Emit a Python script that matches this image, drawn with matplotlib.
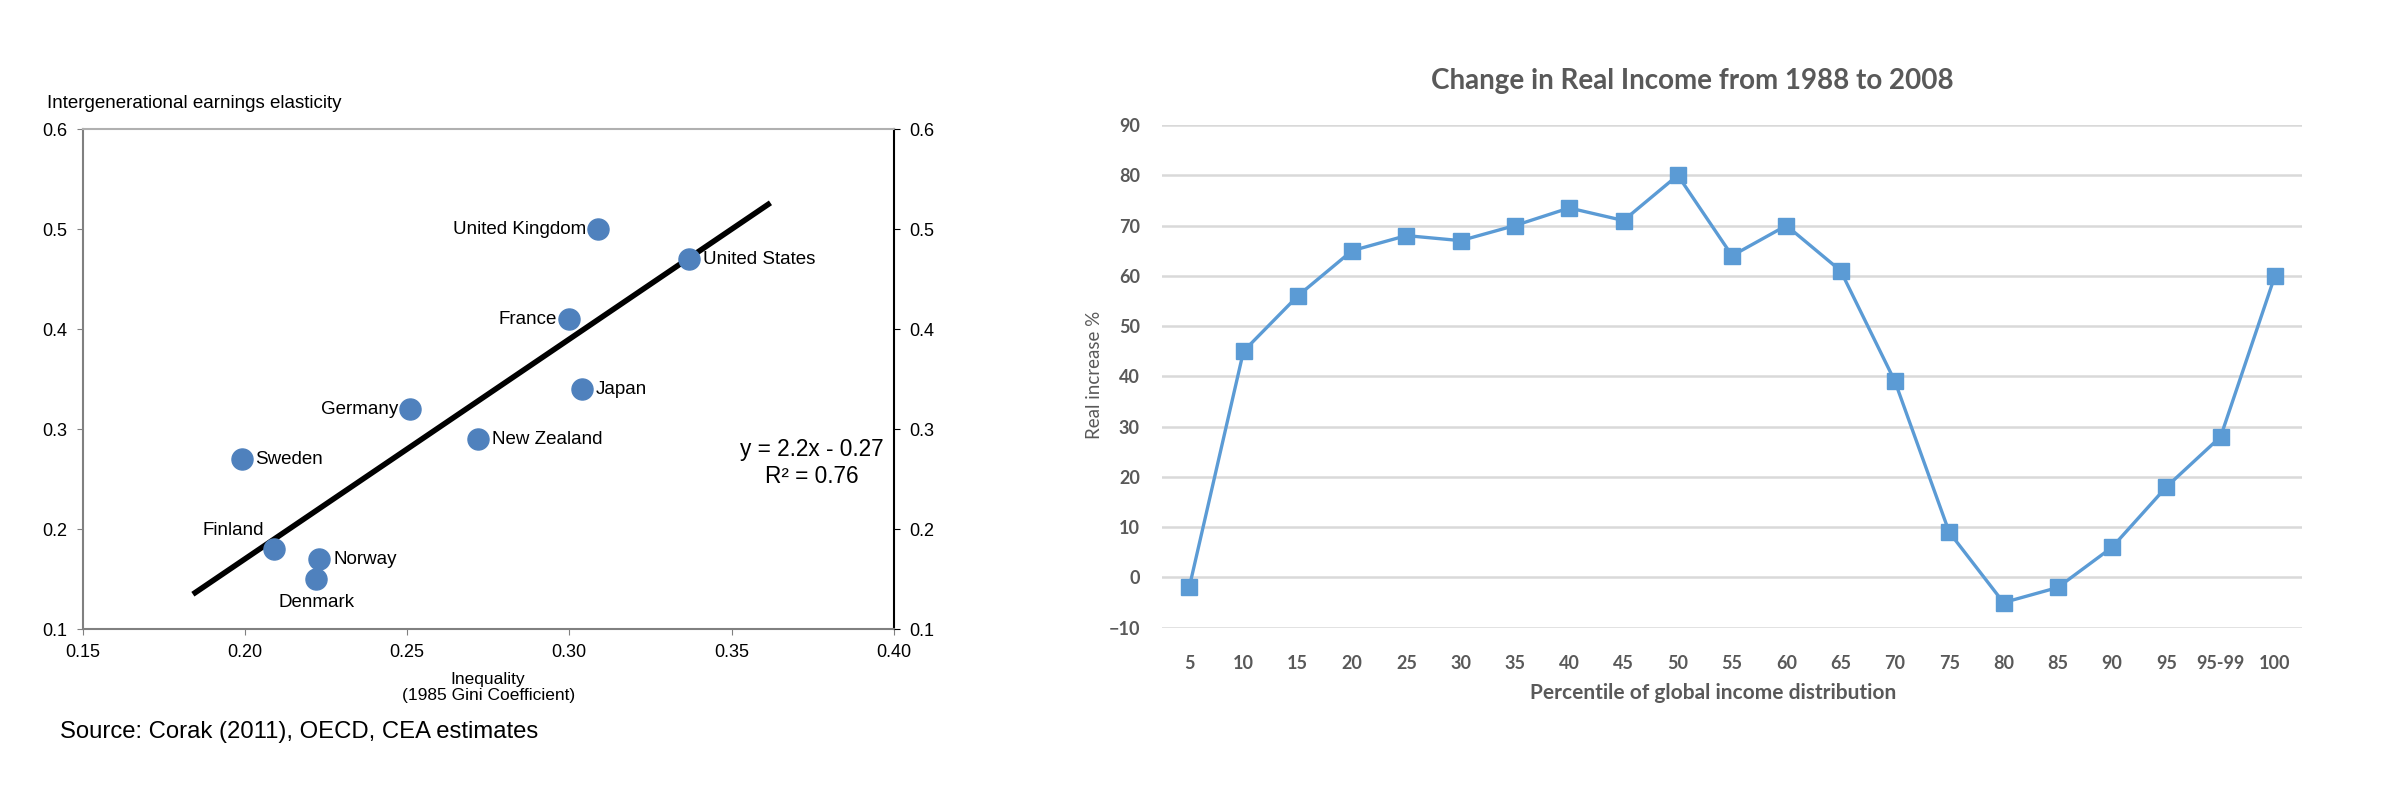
import matplotlib
matplotlib.use("Agg")
import matplotlib.pyplot as plt

# left panel: mobility vs inequality
countries = ["United Kingdom", "United States", "France", "Japan", "Germany",
             "New Zealand", "Sweden", "Finland", "Norway", "Denmark"]
gini = [0.309, 0.337, 0.300, 0.304, 0.251, 0.272, 0.199, 0.209, 0.223, 0.222]
elasticity = [0.50, 0.47, 0.41, 0.34, 0.32, 0.29, 0.27, 0.18, 0.17, 0.15]
fit_slope, fit_intercept = 2.2, -0.27
fit_x = [0.184, 0.362]

# right panel: change in real income
pct_labels = ["5", "10", "15", "20", "25", "30", "35", "40", "45", "50", "55",
              "60", "65", "70", "75", "80", "85", "90", "95", "95-99", "100"]
real_increase = [-2, 45, 56, 65, 68, 67, 70, 73.5, 71, 80, 64,
                 70, 61, 39, 9, -5, -2, 6, 18, 28, 60]

fig = plt.figure(figsize=(24, 8.06), dpi=100)

# ---------- left chart ----------
arial = "Liberation Sans"
ax = fig.add_axes([0.0344, 0.2196, 0.338, 0.620])
ax.scatter(gini, elasticity, s=230, color="#4F81BD", zorder=3)
ax.plot(fit_x, [fit_slope * x + fit_intercept for x in fit_x],
        color="black", lw=4, zorder=2, solid_capstyle="butt")

# label offsets in points (dx, dy, ha, va)
offsets = {
    "United Kingdom": (-9, 0, "right", "center"),
    "United States": (10, 0, "left", "center"),
    "France": (-9, 0, "right", "center"),
    "Japan": (10, 0, "left", "center"),
    "Germany": (-9, 0, "right", "center"),
    "New Zealand": (10, 0, "left", "center"),
    "Sweden": (10, 0, "left", "center"),
    "Finland": (-7, 13, "right", "center"),
    "Norway": (10, 0, "left", "center"),
    "Denmark": (0, -17, "center", "center"),
}
for c, x, y in zip(countries, gini, elasticity):
    dx, dy, ha, va = offsets[c]
    ax.annotate(c, (x, y), xytext=(dx, dy), textcoords="offset points",
                ha=ha, va=va, fontsize=13.5, family=arial)

ax.text(0.3747, 0.266, "y = 2.2x - 0.27\nR² = 0.76", ha="center", va="center",
        fontsize=16.3, family=arial, linespacing=1.2)

ax.set_xlim(0.15, 0.40)
ax.set_ylim(0.1, 0.6)
ax.set_xticks([0.15, 0.20, 0.25, 0.30, 0.35, 0.40])
ax.set_xticklabels(["0.15", "0.20", "0.25", "0.30", "0.35", "0.40"])
ax.set_yticks([0.1, 0.2, 0.3, 0.4, 0.5, 0.6])
ax.set_yticklabels(["0.1", "0.2", "0.3", "0.4", "0.5", "0.6"])
for lab in ax.get_xticklabels() + ax.get_yticklabels():
    lab.set_family(arial)
ax.tick_params(labelsize=13, length=4, color="#808080", pad=7)
ax.spines["top"].set_color("#b0b0b0")
ax.spines["left"].set_color("#808080")
ax.spines["bottom"].set_color("#808080")
for s in ["top", "left", "bottom"]:
    ax.spines[s].set_linewidth(1.5)
ax.spines["right"].set_color("black")
ax.spines["right"].set_linewidth(1.5)

ax2 = ax.twinx()
ax2.set_ylim(0.1, 0.6)
ax2.set_yticks([0.1, 0.2, 0.3, 0.4, 0.5, 0.6])
ax2.set_yticklabels(["0.1", "0.2", "0.3", "0.4", "0.5", "0.6"], family=arial)
ax2.tick_params(labelsize=13, length=4, color="black", pad=7)
for s in ax2.spines.values():
    s.set_visible(False)

ax.set_xlabel("Inequality\n(1985 Gini Coefficient)", fontsize=12.5, family=arial,
              labelpad=8, linespacing=1.05)
fig.text(0.0196, 0.871, "Intergenerational earnings elasticity", fontsize=13.5,
         family=arial, va="center")
fig.text(0.0248, 0.092, "Source: Corak (2011), OECD, CEA estimates", fontsize=17.2,
         family=arial, va="center")

# ---------- right chart ----------
font2 = "Lato"
gray = "#595959"
bx = fig.add_axes([0.4842, 0.2212, 0.475, 0.6237])
xs = list(range(len(pct_labels)))
bx.plot(xs, real_increase, color="#5B9BD5", lw=2.4, marker="s", markersize=12,
        zorder=3)
bx.set_xlim(-0.5, len(pct_labels) - 0.5)
bx.set_ylim(-10, 90)
bx.set_yticks(range(-10, 91, 10))
bx.grid(axis="y", color="#d9d9d9", lw=1.8)
bx.set_axisbelow(True)
for s in bx.spines.values():
    s.set_visible(False)
bx.set_xticks(xs)
bx.set_xticklabels(pct_labels)
for lab in bx.get_xticklabels() + bx.get_yticklabels():
    lab.set_family(font2)
    lab.set_fontweight("bold")
    lab.set_color(gray)
bx.tick_params(axis="x", length=0, labelsize=13, pad=20)
bx.tick_params(axis="y", length=0, labelsize=13, pad=16)

fig.text(0.705, 0.8995, "Change in Real Income from 1988 to 2008", fontsize=20,
         family=font2, fontweight="bold", color=gray, ha="center", va="center")
bx.set_xlabel("Percentile of global income distribution", fontsize=15,
              family=font2, fontweight="bold", color=gray)
bx.xaxis.set_label_coords(0.483, -0.11)
fig.text(0.456, 0.535, "Real increase %", rotation=90, fontsize=13.5,
         family=font2, color=gray, ha="center", va="center")

fig.savefig("out.png", dpi=100)
